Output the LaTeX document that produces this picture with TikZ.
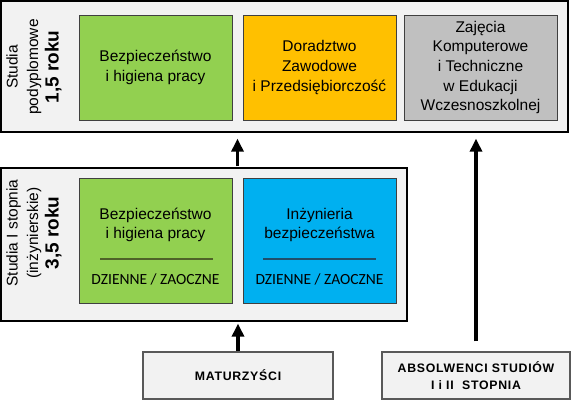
\documentclass[tikz,border=0pt]{standalone}
\usepackage{fontspec}
\setmainfont{Liberation Sans}
\newfontfamily\carlito{Carlito}
\newfontfamily\spacedsans[LetterSpace=6]{Liberation Sans}
\usetikzlibrary{arrows.meta,calc}
\definecolor{outerfill}{HTML}{F2F2F2}
\definecolor{ggreen}{HTML}{92D050}
\definecolor{gorange}{HTML}{FFC000}
\definecolor{ggray}{HTML}{C0C0C0}
\definecolor{gblue}{HTML}{00B0F0}
\definecolor{bord}{HTML}{404040}
\definecolor{sepgreen}{HTML}{4F6228}
\definecolor{sepblue}{HTML}{1F4E6B}
\definecolor{botbord}{HTML}{595959}
\begin{document}
\begin{tikzpicture}[x=1pt,y=-1pt,
  outerbox/.style={draw=black, line width=1.3pt, fill=outerfill, inner sep=0pt},
  course/.style={draw=bord, line width=1pt, inner sep=0pt, minimum width=153pt,
    align=center, font=\fontsize{15.5}{19.6}\selectfont},
  txt/.style={align=center, inner sep=0pt, font=\fontsize{15.5}{19}\selectfont},
  modetxt/.style={inner sep=0pt, font=\carlito\fontsize{15.5}{18}\selectfont},
  sidetxt/.style={rotate=90, align=center, inner sep=0pt, font=\fontsize{15.5}{20.5}\selectfont},
  bottombox/.style={draw=botbord, line width=1.4pt, fill=outerfill, inner sep=0pt,
    minimum height=47pt, align=center, font=\spacedsans\bfseries\fontsize{12.3}{17}\selectfont},
  arr/.style={-{Triangle[width=12pt,length=13pt]}, line width=3.2pt, black},
  sepline/.style={line width=1.5pt}]
\useasboundingbox (0,0) rectangle (572,400);

% outer frames
\node[outerbox, minimum width=567pt, minimum height=131pt] (top) at (284.5,66.5) {};
\node[outerbox, minimum width=406pt, minimum height=153pt] (low) at (204,244.5) {};

% top row courses
\node[course, fill=ggreen, minimum height=105pt] (tg) at (155.5,67.5) {Bezpieczeństwo\\i higiena pracy};
\node[course, fill=gorange, minimum height=105pt] (to) at (319.5,67.5) {Doradztwo\\Zawodowe\\i Przedsiębiorczość};
\node[course, fill=ggray, minimum height=105pt] (tgr) at (480.5,67.5) {Zajęcia\\Komputerowe\\i Techniczne\\w Edukacji\\Wczesnoszkolnej};

% side labels
\node[sidetxt] (s1) at (34,67) {Studia\\podyplomowe\\{\fontsize{19}{19}\selectfont\bfseries 1,5 roku}};
\node[sidetxt] (s2) at (34,233) {Studia I stopnia\\(inżynierskie)\\{\fontsize{19}{19}\selectfont\bfseries 3,5 roku}};

% lower row courses
\node[course, fill=ggreen, minimum height=125pt] (lg) at (155.5,240.5) {};
\node[course, fill=gblue, minimum height=125pt] (lb) at (319.5,240.5) {};
\node[txt] (lgt) at (155.5,224.5) {Bezpieczeństwo\\i higiena pracy};
\node[txt] (lbt) at (319.5,224.5) {Inżynieria\\bezpieczeństwa};
\coordinate (ga) at (100,259); \coordinate (gb) at (213,259);
\coordinate (ba) at (263,259); \coordinate (bb) at (376,259);
\draw[sepline, draw=sepgreen] (ga) -- (gb);
\draw[sepline, draw=sepblue] (ba) -- (bb);
\node[modetxt] (lgm) at (155.5,279) {DZIENNE / ZAOCZNE};
\node[modetxt] (lbm) at (319.5,279) {DZIENNE / ZAOCZNE};

% bottom boxes
\node[bottombox, minimum width=190pt] (mat) at (238,375.5) {MATURZYŚCI};
\node[bottombox, minimum width=188pt] (abs) at (476,375.5) {ABSOLWENCI STUDIÓW\\I i II\ \ STOPNIA};

% arrows
\coordinate (mx) at ($(lg.east)!0.5!(lb.west)$);
\draw[arr, shorten <=1pt, shorten >=6pt] (low.north -| mx) -- (top.south -| mx);
\draw[arr, shorten >=2pt] (mat.north) -- (low.south -| mat.north);
\draw[arr, shorten <=10pt, shorten >=6pt] (abs.north) -- (top.south -| abs.north);
\end{tikzpicture}
\end{document}
